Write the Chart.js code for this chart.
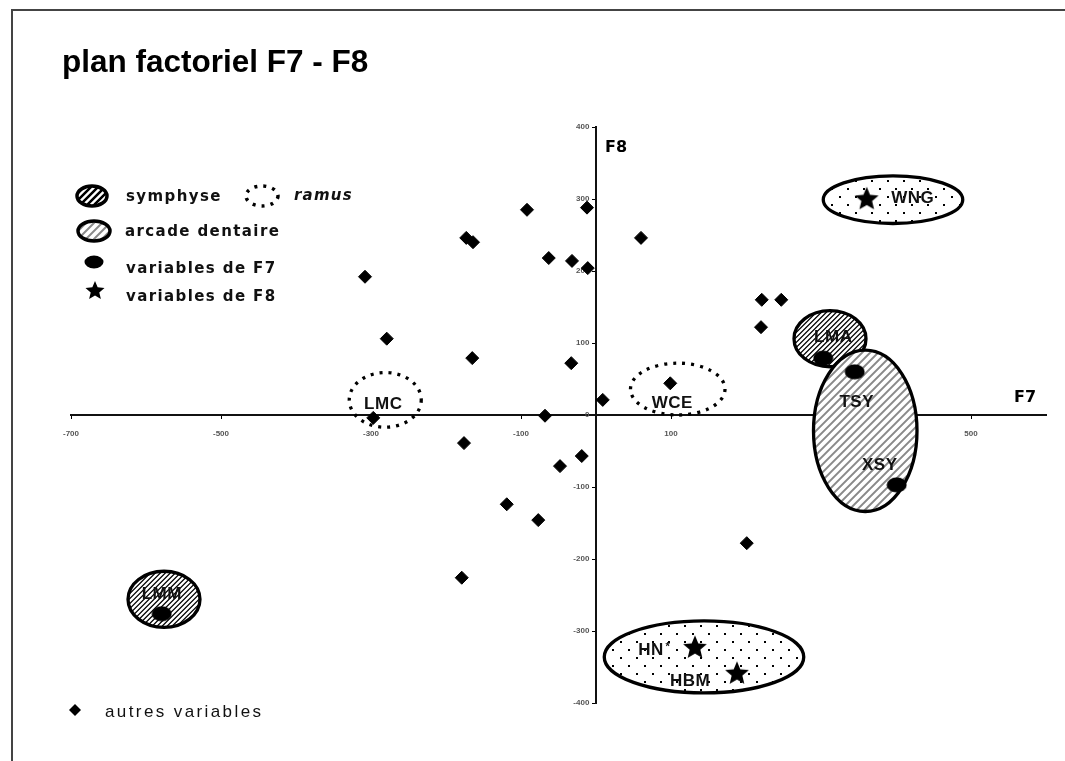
<!DOCTYPE html>
<html><head><meta charset="utf-8">
<script src="https://cdn.jsdelivr.net/npm/chart.js@4.4.1/dist/chart.umd.min.js"></script>
<style>
html,body{margin:0;padding:0;background:#fff;}
#wrap{position:relative;width:1065px;height:761px;overflow:hidden;background:#fff;}
#frame{position:absolute;left:11px;top:9px;width:1100px;height:800px;border-top:2px solid #444;border-left:2px solid #444;}
#c{position:absolute;left:0;top:0;width:1065px;height:761px;}
#title{position:absolute;left:62px;top:46px;font:bold 31.5px 'Liberation Sans',Arial,sans-serif;color:#000;white-space:nowrap;line-height:1;}
</style></head><body>
<div id="wrap"><div id="frame"></div><canvas id="c" width="1065" height="761"></canvas><div id="title">plan factoriel F7 - F8</div></div>
<script>
// ---- data ----
const xTicks = [-700, -500, -300, -100, 100, 300, 500];
const yTicks = [-400, -300, -200, -100, 0, 100, 200, 300, 400];

// autres variables
const otherX = [-308, -279, -173, -164, -165, -92, -63, -32, -12, -11, 60, -33, 9, -68, -176, -48, -19, -119, -77, -179, 201, 221, 247, 220, -297, 99];
const otherY = [192, 106, 246, 240, 79, 285, 218, 214, 288, 204, 246, 72, 21, -1, -39, -71, -57, -124, -146, -226, -178, 160, 160, 122, -4, 44];
const otherNames = ['', '', '', '', '', '', '', '', '', '', '', '', '', '', '', '', '', '', '', '', '', '', '', '', 'LMC', 'WCE'];

// variables de F7
const f7Names = ['LMM', 'LMA', 'TSY', 'XSY'];
const f7X = [-579, 303, 345, 401];
const f7Y = [-276, 79, 60, -97];

// variables de F8
const f8Names = ['WNG', 'HN*', 'HBM'];
const f8X = [361, 132, 188];
const f8Y = [301, -322, -358];

// group regions (data units): centre x, centre y, half-width, half-height
const groupKind = ['hatch', 'gray', 'dots', 'hatch', 'dots', 'dash', 'dash'];
const groupCX = [312, 359, 396, -576, 144, -281, 109];
const groupCY = [106, -22, 299, -256, -336, 21, 36];
const groupRX = [48, 69, 93, 48, 133, 48, 63];
const groupRY = [39, 112, 33, 39, 50, 38, 36];

// ---- label offsets (pixels) ----
const labelOffset = {
  LMC: [10, -14], WCE: [2, 20], LMM: [0, -19], LMA: [10, -21], TSY: [2, 31],
  XSY: [-17, -20], WNG: [46, 0], 'HN*': [-40, 3], HBM: [-47, 9]
};

function makeEllipseImg(w, h) {
  const c = document.createElement('canvas'); c.width = w; c.height = h;
  const g = c.getContext('2d'); g.fillStyle = '#000';
  g.beginPath(); g.ellipse(w / 2, h / 2, w / 2 - 0.5, h / 2 - 0.5, 0, 0, Math.PI * 2); g.fill();
  return c;
}
function starPath(g, cx, cy, R) {
  const r = R * 0.45; g.beginPath();
  for (let i = 0; i < 10; i++) {
    const a = -Math.PI / 2 + i * Math.PI / 5, rr = i % 2 ? r : R;
    g.lineTo(cx + rr * Math.cos(a), cy + rr * Math.sin(a));
  }
  g.closePath();
}
function makeStarImg(s) {
  const c = document.createElement('canvas'); c.width = s; c.height = s;
  const g = c.getContext('2d'); g.fillStyle = '#000';
  starPath(g, s / 2, s / 2 + 1, s / 2 - 0.5); g.fill();
  return c;
}
const f7Img = makeEllipseImg(21, 16);
const starImg = makeStarImg(26);

function ell(ctx, cx, cy, rx, ry) { ctx.beginPath(); ctx.ellipse(cx, cy, rx, ry, 0, 0, Math.PI * 2); }
function drawRegion(ctx, kind, cx, cy, rx, ry, small) {
  const lw = small ? 3.5 : 3.3;
  ctx.save();
  if (kind !== 'dash') {
    ell(ctx, cx, cy, rx, ry); ctx.fillStyle = '#fff'; ctx.fill();
    ctx.save(); ell(ctx, cx, cy, rx, ry); ctx.clip();
    const R = Math.max(rx, ry) + 4;
    if (kind === 'hatch' || kind === 'gray') {
      const step = kind === 'hatch' ? (small ? 7 : 5) : 8;
      ctx.strokeStyle = kind === 'hatch' ? '#000' : '#8a8a8a';
      ctx.lineWidth = kind === 'hatch' ? (small ? 2.5 : 1.3) : 2;
      ctx.beginPath();
      for (let k = -2 * R; k <= 2 * R; k += step) {
        ctx.moveTo(cx - R + k, cy + R); ctx.lineTo(cx + R + k, cy - R);
      }
      ctx.stroke();
    } else if (kind === 'dots') {
      ctx.fillStyle = '#000';
      let j = 0;
      for (let y = cy - ry + 4; y < cy + ry; y += 8, j++) {
        for (let x = cx - rx + (j % 2 ? 8 : 0); x < cx + rx; x += 16) ctx.fillRect(Math.round(x), Math.round(y), 2, 2);
      }
    }
    ctx.restore();
    ell(ctx, cx, cy, rx, ry); ctx.strokeStyle = '#000'; ctx.lineWidth = lw; ctx.stroke();
  } else {
    ell(ctx, cx, cy, rx, ry); ctx.strokeStyle = '#000'; ctx.lineWidth = lw;
    ctx.setLineDash([3, 6]); ctx.stroke();
  }
  ctx.restore();
}

const regionsPlugin = {
  id: 'regions',
  beforeDatasetsDraw(chart) {
    const ctx = chart.ctx, xs = chart.scales.x, ys = chart.scales.y;
    for (let i = 0; i < groupKind.length; i++) {
      const cx = xs.getPixelForValue(groupCX[i]), cy = ys.getPixelForValue(groupCY[i]);
      const rx = Math.abs(xs.getPixelForValue(groupCX[i] + groupRX[i]) - cx);
      const ry = Math.abs(ys.getPixelForValue(groupCY[i] + groupRY[i]) - cy);
      drawRegion(ctx, groupKind[i], cx, cy, rx, ry, false);
    }
  },
  afterDatasetsDraw(chart) {
    const ctx = chart.ctx, xs = chart.scales.x, ys = chart.scales.y, ca = chart.chartArea;
    ctx.save();
    ctx.fillStyle = '#111';
    ctx.textAlign = 'center'; ctx.textBaseline = 'middle';
    ctx.font = "bold 17px 'Liberation Sans', Arial, sans-serif";
    try { ctx.letterSpacing = '0.5px'; } catch (e) {}
    const put = (name, x, y) => {
      if (!name) return;
      const o = labelOffset[name] || [0, -18];
      const px = xs.getPixelForValue(x) + o[0], py = ys.getPixelForValue(y) + o[1];
      if (name.endsWith('*')) {
        const base = name.slice(0, -1);
        const w = ctx.measureText(base).width;
        ctx.fillText(base, px - 4, py);
        ctx.save(); ctx.font = "bold 11px 'Liberation Sans', Arial, sans-serif";
        ctx.fillText('*', px - 4 + w / 2 + 4, py - 3); ctx.restore();
      } else ctx.fillText(name, px, py);
    };
    otherNames.forEach((n, i) => put(n, otherX[i], otherY[i]));
    f7Names.forEach((n, i) => put(n, f7X[i], f7Y[i]));
    f8Names.forEach((n, i) => put(n, f8X[i], f8Y[i]));

    // axis names
    try { ctx.letterSpacing = '0px'; } catch (e) {}
    ctx.font = "bold 16px 'DejaVu Sans', Verdana, sans-serif";
    ctx.fillStyle = '#000';
    ctx.textAlign = 'left';
    ctx.fillText('F8', xs.getPixelForValue(0) + 9, ca.top + 21);
    ctx.fillText('F7', ca.right - 32, ys.getPixelForValue(0) - 17);

    // legend
    drawRegion(ctx, 'hatch', 92, 196, 15, 10, true);
    drawRegion(ctx, 'dash', 262, 196, 16, 10, true);
    drawRegion(ctx, 'gray', 94, 231, 16, 10, true);
    ctx.drawImage(makeEllipseImg(20, 14), 84, 255);
    ctx.fillStyle = '#000'; starPath(ctx, 95, 291, 10); ctx.fill();
    ctx.beginPath(); ctx.moveTo(75, 704); ctx.lineTo(81, 710); ctx.lineTo(75, 716); ctx.lineTo(69, 710); ctx.closePath(); ctx.fill();

    ctx.fillStyle = '#111';
    ctx.textBaseline = 'middle'; ctx.textAlign = 'left';
    ctx.font = "bold 15px 'DejaVu Sans', Verdana, sans-serif";
    try { ctx.letterSpacing = '1.4px'; } catch (e) {}
    ctx.fillText('symphyse', 126, 197);
    ctx.fillText('arcade dentaire', 125, 232);
    ctx.fillText('variables de F7', 126, 269);
    ctx.fillText('variables de F8', 126, 297);
    ctx.font = "italic bold 15px 'DejaVu Sans', Verdana, sans-serif";
    try { ctx.letterSpacing = '1.2px'; } catch (e) {}
    ctx.fillText('ramus', 294, 196);
    ctx.font = "17px 'Liberation Sans', Arial, sans-serif";
    try { ctx.letterSpacing = '2.4px'; } catch (e) {}
    ctx.fillText('autres variables', 105, 712);
    ctx.restore();
  }
};

const tickFont = { size: 8, weight: 'bold', family: "'Liberation Sans', Arial, sans-serif" };
new Chart(document.getElementById('c'), {
  type: 'scatter',
  data: {
    datasets: [
      { label: 'autres variables', data: otherX.map((x, i) => ({ x, y: otherY[i] })),
        pointStyle: 'rectRot', pointRadius: 6.5, pointHoverRadius: 6.5, backgroundColor: '#000', borderColor: '#000', borderWidth: 1 },
      { label: 'variables de F7', data: f7X.map((x, i) => ({ x, y: f7Y[i] })),
        pointStyle: f7Img, pointRadius: 10, backgroundColor: '#000', borderColor: '#000' },
      { label: 'variables de F8', data: f8X.map((x, i) => ({ x, y: f8Y[i] })),
        pointStyle: starImg, pointRadius: 12, backgroundColor: '#000', borderColor: '#000' }
    ]
  },
  options: {
    responsive: false, animation: false, events: [],
    layout: { padding: { left: 71, right: 19, top: 127, bottom: 58 } },
    plugins: { legend: { display: false }, tooltip: { enabled: false } },
    scales: {
      x: {
        type: 'linear', min: -700, max: 600, position: { y: 0 },
        afterBuildTicks: s => { s.ticks = xTicks.map(v => ({ value: v })); },
        grid: { display: true, drawOnChartArea: false, drawTicks: true, tickLength: 3, color: '#000' },
        border: { display: true, color: '#111', width: 2 },
        ticks: { font: tickFont, color: '#555', padding: 11, autoSkip: false, maxRotation: 0 }
      },
      y: {
        type: 'linear', min: -400, max: 400, position: { x: 0 },
        afterBuildTicks: s => { s.ticks = yTicks.map(v => ({ value: v })); },
        grid: { display: true, drawOnChartArea: false, drawTicks: true, tickLength: 3, color: '#000' },
        border: { display: true, color: '#111', width: 2 },
        ticks: { font: tickFont, color: '#555', padding: 4, autoSkip: false, callback: v => v + '   ' }
      }
    }
  },
  plugins: [regionsPlugin]
});
</script>
</body></html>
